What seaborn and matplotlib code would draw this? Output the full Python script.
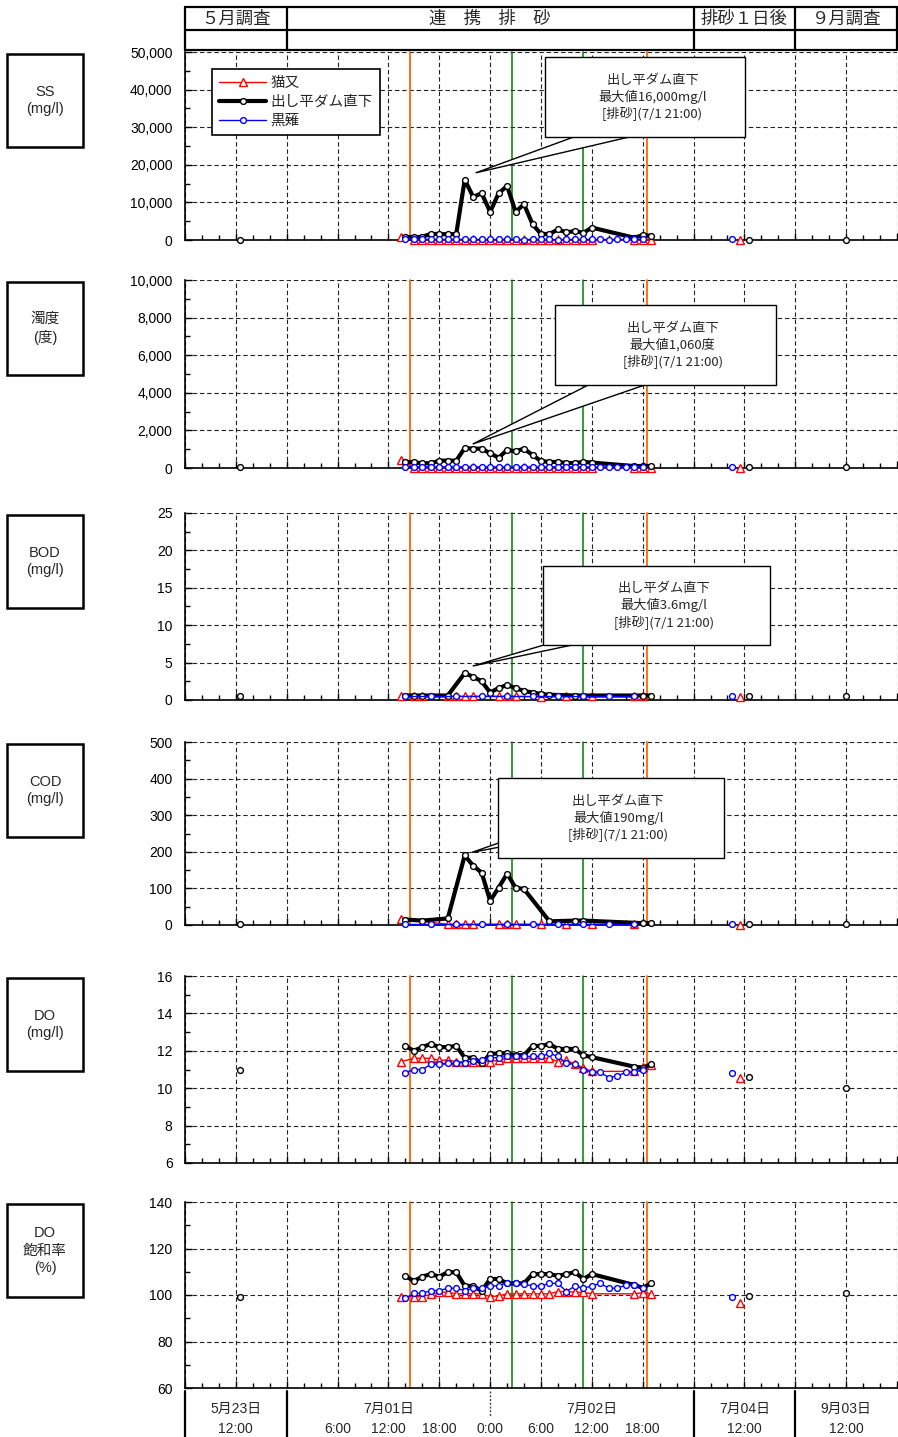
import matplotlib
matplotlib.use("Agg")
import matplotlib.pyplot as plt
import seaborn as sns
import numpy as np
import pandas as pd
from matplotlib.lines import Line2D
from matplotlib.patches import Rectangle, Polygon
from matplotlib.ticker import MultipleLocator, FuncFormatter
from matplotlib.transforms import blended_transform_factory

# ---------------- data ----------------
SERIES = ["猫又", "出し平ダム直下", "黒薙"]

# hours counted from 7/01 0:00
T_RED = [13.5, 15, 16, 17, 18, 19, 20, 21, 22, 23, 24, 25, 26, 27, 28, 29, 30, 31, 32, 33, 34, 35, 36, 41, 42, 43]
T_BLACK = [14, 15, 16, 17, 18, 19, 20, 21, 22, 23, 24, 25, 26, 27, 28, 29, 30, 31, 32, 33, 34, 35, 36, 41, 42, 43]
T_BLUE = [14, 15, 16, 17, 18, 19, 20, 21, 22, 23, 24, 25, 26, 27, 28, 29, 30, 31, 32, 33, 34, 35, 36, 37, 38, 39, 40, 41, 42]

SS_RED = [900, 80, 60, 50, 40, 50, 40, 30, 40, 30, 40, 30, 30, 40, 30, 30, 40, 30, 30, 30, 40, 30, 30, 40, 30, 30]
SS_BLACK = [880, 700, 880, 1600, 1600, 1500, 1600, 16000, 11500, 12400, 7500, 12400, 14400, 7500, 9500, 4200,
            1600, 1600, 2800, 2000, 2400, 1900, 3300, 600, 1300, 1100]
SS_BLUE = [200, 200, 180, 180, 150, 150, 150, 180, 150, 150, 150, 150, 150, 150, 100, 150, 150, 150, 100, 150,
           150, 150, 150, 150, 100, 150, 150, 150, 200]

TURB_RED = [420, 20, 20, 15, 15, 15, 15, 10, 10, 10, 10, 10, 10, 10, 10, 10, 10, 10, 10, 10, 10, 10, 10, 10, 10, 10]
TURB_BLACK = [335, 300, 250, 250, 390, 390, 390, 1060, 1030, 1030, 780, 550, 960, 890, 1030, 690, 370, 320, 320,
              265, 265, 320, 290, 100, 110, 100]
TURB_BLUE = [70, 70, 65, 65, 65, 60, 60, 60, 60, 60, 60, 60, 60, 60, 60, 60, 60, 60, 60, 60, 60, 60, 60, 60, 60,
             60, 60, 60, 60]

T_BOD_RED = [13.5, 15, 16, 19, 20, 21, 22, 25, 26, 27, 30, 33, 36, 41, 42]
T_BOD_BLACK = [14, 15, 16, 17, 19, 21, 22, 23, 24, 25, 26, 27, 28, 29, 30, 31, 34, 35, 42, 43]
T_BOD_BLUE = [14, 17, 20, 23, 26, 29, 32, 35, 38, 41]
BOD_RED = [0.5, 0.5, 0.5, 0.5, 0.5, 0.5, 0.5, 0.5, 0.5, 0.5, 0.4, 0.5, 0.5, 0.5, 0.5]
BOD_BLACK = [0.6, 0.6, 0.6, 0.6, 0.6, 3.6, 3.1, 2.5, 1.0, 1.6, 2.0, 1.6, 1.2, 1.0, 0.8, 0.7, 0.6, 0.6, 0.6, 0.6]
BOD_BLUE = [0.6, 0.6, 0.6, 0.6, 0.6, 0.6, 0.6, 0.6, 0.6, 0.6]

T_COD_RED = [13.5, 19, 20, 21, 22, 25, 26, 27, 30, 33, 36, 41]
T_COD_BLACK = [14, 16, 19, 21, 22, 23, 24, 25, 26, 27, 28, 31, 34, 35, 42, 43]
T_COD_BLUE = [14, 17, 20, 23, 26, 29, 32, 35, 38, 41]
COD_RED = [16, 2, 2, 2, 2, 2, 2, 2, 2, 2, 2, 2]
COD_BLACK = [15, 12, 18, 190, 162, 143, 66, 102, 140, 102, 98, 10, 12, 12, 5, 5]
COD_BLUE = [4, 4, 4, 4, 4, 4, 4, 4, 4, 4]

DO_RED = [11.42, 11.6, 11.6, 11.6, 11.5, 11.5, 11.42, 11.42, 11.42, 11.42, 11.42, 11.5, 11.6, 11.6, 11.6, 11.6,
          11.6, 11.6, 11.42, 11.5, 11.28, 11.1, 10.9, 10.9, 11.15, 11.25]
DO_BLACK = [12.26, 12.0, 12.2, 12.36, 12.2, 12.2, 12.26, 11.63, 11.63, 11.33, 11.83, 11.86, 11.86, 11.76, 11.76,
            12.26, 12.26, 12.36, 12.1, 12.1, 12.1, 11.76, 11.66, 11.15, 11.1, 11.28]
DO_BLUE = [10.83, 11.0, 11.0, 11.28, 11.28, 11.33, 11.33, 11.37, 11.47, 11.5, 11.63, 11.63, 11.7, 11.7, 11.7, 11.7,
           11.7, 11.86, 11.7, 11.33, 11.28, 11.0, 10.84, 10.84, 10.57, 10.66, 10.84, 10.84, 11.0]

DOS_RED = [99.3, 99.3, 99.3, 100.3, 101.2, 101.2, 100.5, 100.5, 100.5, 100.5, 99.3, 99.6, 100.5, 100.5, 100.5,
           100.5, 100.5, 100.5, 101.5, 101.5, 101.2, 101.2, 100.5, 100.5, 101.0, 100.5]
DOS_BLACK = [108.2, 106.0, 107.9, 109.0, 107.9, 109.8, 109.8, 103.9, 103.9, 101.7, 106.9, 106.9, 105.0, 105.0,
             105.0, 109.0, 109.0, 109.0, 108.2, 109.0, 109.8, 106.9, 109.0, 104.3, 103.1, 105.0]
DOS_BLUE = [98.6, 100.7, 100.7, 101.9, 101.9, 102.9, 102.9, 101.9, 102.9, 102.9, 103.9, 103.9, 105.3, 105.0, 104.7,
            103.9, 103.9, 105.0, 105.0, 101.5, 103.9, 102.9, 103.9, 105.0, 102.9, 102.9, 104.3, 104.3, 102.9]

# isolated surveys (one value per panel: SS, 濁度, BOD, COD, DO, DO飽和率)
T_MAY23 = -5.5
T_SEP03 = 66
T_JUL04 = [53.5, 54.5, 52.5]          # 猫又, 出し平ダム直下, 黒薙
MAY23_BLACK = [100, 60, 0.6, 2, 11.0, 99.0]
JUL04_RED = [50, 10, 0.4, 1, 10.55, 96.7]
JUL04_BLACK = [100, 60, 0.6, 4, 10.6, 99.7]
JUL04_BLUE = [300, 60, 0.6, 4, 10.8, 99.0]
SEP03_BLACK = [100, 60, 0.6, 3, 10.0, 100.7]

EVENT_ORANGE = [14.5, 42.5]
EVENT_GREEN = [26.6, 35.0]

PANEL_LABELS = ["SS\n(mg/l)", "濁度\n(度)", "BOD\n(mg/l)", "COD\n(mg/l)", "DO\n(mg/l)", "DO\n飽和率\n(%)"]
CALLOUT_TEXT = [
    "出し平ダム直下\n最大値16,000mg/l\n[排砂](7/1 21:00)",
    "出し平ダム直下\n最大値1,060度\n[排砂](7/1 21:00)",
    "出し平ダム直下\n最大値3.6mg/l\n[排砂](7/1 21:00)",
    "出し平ダム直下\n最大値190mg/l\n[排砂](7/1 21:00)",
]
HEADER_TEXT = [("５月調査", -6), ("連　携　排　砂", 24), ("排砂１日後", 54), ("９月調査", 66)]
DATE_LABELS = [("5月23日", -6), ("7月01日", 12), ("7月02日", 36), ("7月04日", 54), ("9月03日", 66)]
TIME_LABELS = [("12:00", -6), ("6:00", 6), ("12:00", 12), ("18:00", 18), ("0:00", 24), ("6:00", 30),
               ("12:00", 36), ("18:00", 42), ("12:00", 54), ("12:00", 66)]

# ---------------- style / layout ----------------
sns.set_theme(style="white")
plt.rcParams['font.family'] = ['Liberation Sans', 'Noto Sans CJK JP', 'DejaVu Sans']
JP = ['Noto Sans CJK JP', 'DejaVu Sans']

W, H = 898, 1437
L, R = 185, 897
fig = plt.figure(figsize=(W / 100, H / 100), dpi=100)


def fx(x):
    return x / W


def fy(y):
    return 1 - y / H


STYLE = {
    "猫又": dict(color="#FF0000", lw=1.0, marker="^", ms=5.5, zorder=3),
    "出し平ダム直下": dict(color="#000000", lw=3.0, marker="o", ms=4.2, zorder=4),
    "黒薙": dict(color="#0000FF", lw=1.0, marker="o", ms=4.2, zorder=5),
}

# (pixel top, pixel bottom, ymin, ymax, major, minor, comma)
LAYOUT = [
    (52, 240, 0, 50000, 10000, 5000, True),
    (280, 468, 0, 10000, 2000, 1000, True),
    (513, 700, 0, 25, 5, 2.5, False),
    (742, 925, 0, 500, 100, 50, False),
    (976, 1163, 6, 16, 2, 1, False),
    (1202, 1388, 60, 140, 20, 10, False),
]

SERIES_DATA = [
    [(T_RED, SS_RED), (T_BLACK, SS_BLACK), (T_BLUE, SS_BLUE)],
    [(T_RED, TURB_RED), (T_BLACK, TURB_BLACK), (T_BLUE, TURB_BLUE)],
    [(T_BOD_RED, BOD_RED), (T_BOD_BLACK, BOD_BLACK), (T_BOD_BLUE, BOD_BLUE)],
    [(T_COD_RED, COD_RED), (T_COD_BLACK, COD_BLACK), (T_COD_BLUE, COD_BLUE)],
    [(T_RED, DO_RED), (T_BLACK, DO_BLACK), (T_BLUE, DO_BLUE)],
    [(T_RED, DOS_RED), (T_BLACK, DOS_BLACK), (T_BLUE, DOS_BLUE)],
]

# callout geometry in axes fraction: box (x0, y0, x1, y1), base points, tip offset in px
CALLOUT_GEOM = [
    ((0.506, 0.548, 0.787, 0.973), [(0.562, 0.57), (0.649, 0.57)], (11, -7)),
    ((0.520, 0.441, 0.830, 0.867), [(0.576, 0.46), (0.660, 0.46)], (8, -4)),
    ((0.503, 0.294, 0.822, 0.717), [(0.527, 0.32), (0.576, 0.32)], (8, -7)),
    ((0.440, 0.366, 0.757, 0.803), [(0.471, 0.49), (0.527, 0.49)], (7, -3)),
]


def draw_line(ax, t, v, name, line=True):
    st = STYLE[name]
    df = pd.DataFrame({"t": t, "v": v})
    sns.lineplot(data=df, x="t", y="v", ax=ax, estimator=None, sort=False, legend=False,
                 color=st["color"], linewidth=st["lw"], linestyle="-" if line else "None",
                 marker=st["marker"], markersize=st["ms"], markerfacecolor="white",
                 markeredgecolor=st["color"], markeredgewidth=1.0, zorder=st["zorder"])


axes = []
for i, (top, bot, y0, y1, maj, mnr, comma) in enumerate(LAYOUT):
    ax = fig.add_axes([fx(L), fy(bot), (R - L) / W, (bot - top) / H])
    axes.append(ax)

    for xe in EVENT_ORANGE:
        ax.axvline(xe, color="#FF6600", lw=1.3, zorder=1.5)
    for xe in EVENT_GREEN:
        ax.axvline(xe, color="#008000", lw=1.1, zorder=1.5)

    for name, (t, v) in zip(SERIES, SERIES_DATA[i]):
        draw_line(ax, t, v, name)

    # isolated surveys
    draw_line(ax, [T_MAY23], [MAY23_BLACK[i]], SERIES[1], line=False)
    draw_line(ax, [T_JUL04[2]], [JUL04_BLUE[i]], SERIES[2], line=False)
    draw_line(ax, [T_JUL04[0]], [JUL04_RED[i]], SERIES[0], line=False)
    draw_line(ax, [T_JUL04[1]], [JUL04_BLACK[i]], SERIES[1], line=False)
    draw_line(ax, [T_SEP03], [SEP03_BLACK[i]], SERIES[1], line=False)
    for ln in ax.lines:
        ln.set_clip_on(False)

    ax.set_xlim(-12, 72)
    ax.set_ylim(y0, y1)
    ax.set_xlabel("")
    ax.set_ylabel("")
    ax.xaxis.set_major_locator(MultipleLocator(6))
    ax.xaxis.set_minor_locator(MultipleLocator(2))
    ax.yaxis.set_major_locator(MultipleLocator(maj))
    ax.yaxis.set_minor_locator(MultipleLocator(mnr))
    if comma:
        ax.yaxis.set_major_formatter(FuncFormatter(lambda v, p: f"{int(round(v)):,}"))
    else:
        ax.yaxis.set_major_formatter(FuncFormatter(lambda v, p: f"{int(round(v))}"))
    ax.tick_params(axis="x", which="both", labelbottom=False)
    ax.tick_params(which="major", direction="in", length=5, width=1, color="black")
    ax.tick_params(which="minor", direction="in", length=3.5, width=1, color="black")
    ax.tick_params(axis="y", which="major", labelsize=10, pad=9, labelcolor="black")
    ax.tick_params(left=True, bottom=True, which="both")
    for s in ["top", "right"]:
        ax.spines[s].set_visible(False)
    for s in ["left", "bottom"]:
        ax.spines[s].set_color("black")
        ax.spines[s].set_linewidth(1.2)
    ax.grid(True, which="major", color="#222222", linestyle=(0, (4, 2.5)), linewidth=0.8)
    ax.set_axisbelow(True)

    # left label box
    fig.add_artist(Rectangle((fx(7), fy(top + 95)), 76 / W, 93 / H, transform=fig.transFigure,
                             facecolor="white", edgecolor="black", lw=1.8))
    fig.text(fx(45), fy(top + 48.5), PANEL_LABELS[i], ha="center", va="center", fontsize=10.5,
             linespacing=1.35, family=['Liberation Sans', 'Noto Sans CJK JP'])

    # callout for maximum of the 出し平ダム直下 series
    if i < 4:
        tb, vb = SERIES_DATA[i][1]
        k = int(np.argmax(vb))
        box, bases, off = CALLOUT_GEOM[i]
        axw = (R - L)
        axh = (bot - top)
        tip = ax.transAxes.inverted().transform(ax.transData.transform((tb[k], vb[k])))
        tip = (tip[0] + off[0] / axw, tip[1] - off[1] / axh)
        ax.add_patch(Polygon([tip, bases[0], bases[1]], closed=True, transform=ax.transAxes,
                             facecolor="white", edgecolor="black", lw=1.0, clip_on=False, zorder=8))
        bx0, by0, bx1, by1 = box
        ax.add_patch(Rectangle((bx0, by0), bx1 - bx0, by1 - by0, transform=ax.transAxes,
                               facecolor="white", edgecolor="black", lw=1.0, clip_on=False, zorder=9))
        ax.text((bx0 + bx1) / 2 + 0.01, (by0 + by1) / 2, CALLOUT_TEXT[i], transform=ax.transAxes,
                ha="center", va="center", fontsize=9.5, linespacing=1.25, family=JP, zorder=10)

# legend in first panel
handles = [Line2D([], [], color=STYLE[n]["color"], lw=STYLE[n]["lw"], marker=STYLE[n]["marker"],
                  ms=STYLE[n]["ms"], mfc="white", mec=STYLE[n]["color"], mew=1.0) for n in SERIES]
leg = axes[0].legend(handles, SERIES, loc="upper left", bbox_to_anchor=(0.038, 0.912), borderaxespad=0,
                     frameon=True, fancybox=False, edgecolor="black", framealpha=1, handlelength=3.2,
                     borderpad=0.5, labelspacing=0.35, handletextpad=0.3, prop={"family": JP, "size": 10.5})
leg.get_frame().set_linewidth(1.2)
leg.set_zorder(10)

# ---------------- header table ----------------
ax0 = axes[0]
bt = blended_transform_factory(ax0.transData, fig.transFigure)
HT, HM, HB = 7, 30, 50
for y in (HT, HM, HB):
    fig.add_artist(Line2D([fx(L), fx(R)], [fy(y), fy(y)], transform=fig.transFigure, color="black", lw=1.6))
for xs in (-12, 0, 48, 60, 72):
    ax0.add_artist(Line2D([xs, xs], [fy(HT), fy(HB)], transform=bt, color="black", lw=1.6, clip_on=False))
for txt, xc in HEADER_TEXT:
    ax0.text(xc, fy((HT + HM) / 2 + 0.5), txt, transform=bt, ha="center", va="center", fontsize=12.5, family=JP)

# ---------------- bottom table ----------------
axl = axes[-1]
bb = blended_transform_factory(axl.transData, fig.transFigure)
for xs in (-12, 0, 48, 60):
    axl.add_artist(Line2D([xs, xs], [fy(1391), fy(1437)], transform=bb, color="black", lw=1.6, clip_on=False))
axl.add_artist(Line2D([24, 24], [fy(1391), fy(1417)], transform=bb, color="#444444", lw=1.0,
                      linestyle=(0, (1.5, 1.2)), clip_on=False))
for txt, xc in DATE_LABELS:
    axl.text(xc, fy(1409), txt, transform=bb, ha="center", va="center", fontsize=10,
             family=['Liberation Sans', 'Noto Sans CJK JP'])
for txt, xc in TIME_LABELS:
    axl.text(xc, fy(1429), txt, transform=bb, ha="center", va="center", fontsize=10)

fig.savefig("out.png", dpi=100)
